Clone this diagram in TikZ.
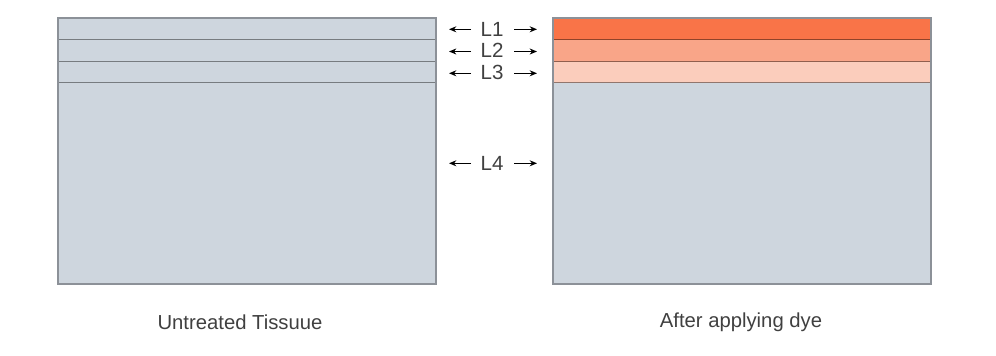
\documentclass[tikz,border=0pt]{standalone}
\usepackage{fontspec}
\setmainfont{Liberation Sans}
\usetikzlibrary{arrows.meta}
\definecolor{tissue}{HTML}{CED6DE}
\definecolor{edge}{HTML}{8C9198}
\definecolor{dyeA}{HTML}{F97448}
\definecolor{dyeB}{HTML}{F9A588}
\definecolor{dyeC}{HTML}{FBCDBC}
\definecolor{txt}{HTML}{404040}
\tikzset{
  layer/.style={draw=black, draw opacity=0.42, line width=0.75pt},
  lbl/.style={text=txt, font=\fontsize{15.4}{18}\selectfont, inner sep=0pt, anchor=base},
  captext/.style={text=txt, font=\fontsize{15.2}{18}\selectfont, inner sep=0pt, anchor=base},
  pt/.style={-{Stealth[length=5.5pt,width=4.5pt]}, line width=0.9pt, black},
}
\begin{document}
\begin{tikzpicture}[x=0.75pt,y=-0.75pt]
\useasboundingbox (0,0) rectangle (996,356);
% left tissue
\fill[tissue] (58,18) rectangle (436,284);
\draw[layer] (58,40) -- (436,40);
\draw[layer] (58,62) -- (436,62);
\draw[layer] (58,83) -- (436,83);
\draw[edge, line width=0.9pt] (58,18) rectangle (436,284);
% right tissue
\fill[tissue] (553,18) rectangle (931,284);
\fill[dyeA] (553,18) rectangle (931,40);
\fill[dyeB] (553,40) rectangle (931,62);
\fill[dyeC] (553,62) rectangle (931,83);
\draw[layer] (553,40) -- (931,40);
\draw[layer] (553,62) -- (931,62);
\draw[layer] (553,83) -- (931,83);
\draw[edge, line width=0.9pt] (553,18) rectangle (931,284);
% labels
\foreach \n/\y/\b in {1/29.3/36.7,2/51.5/58,3/73.3/80,4/163.3/170.6}{
  \node[lbl] (L\n) at (492,\b) {L\n};
  \coordinate (la\n) at (471,\y);
  \coordinate (lb\n) at (449,\y);
  \coordinate (ra\n) at (514,\y);
  \coordinate (rb\n) at (537,\y);
  \draw[pt] (la\n) -- (lb\n);
  \draw[pt] (ra\n) -- (rb\n);
}
\node[captext] (capL) at (240,329.3) {Untreated Tissuue};
\node[captext] (capR) at (741,327.3) {After applying dye};
\end{tikzpicture}
\end{document}
